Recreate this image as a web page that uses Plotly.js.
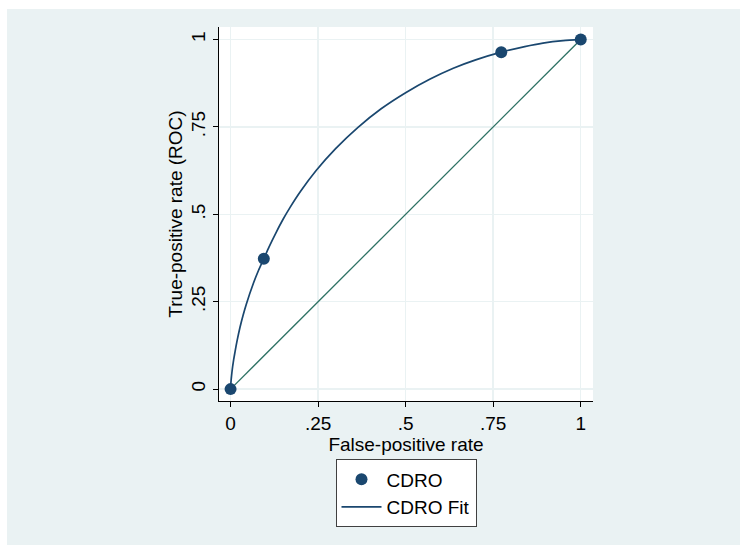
<!DOCTYPE html>
<html>
<head>
<meta charset="utf-8">
<script src="https://cdn.plot.ly/plotly-3.0.1.min.js"></script>
<style>
html,body{margin:0;padding:0;background:#ffffff;}
#chart{position:absolute;left:7px;top:9px;width:733px;height:536px;}
</style>
</head>
<body>
<div id="chart"></div>
<script>
// Observed operating points (CDRO)
const pointFPR = [0, 0.095, 0.773, 1];
const pointTPR = [0, 0.373, 0.964, 1];
// Fitted ROC curve (CDRO Fit)
const fitFPR = [0, 0.0005, 0.001, 0.002, 0.004, 0.006, 0.009, 0.013, 0.019, 0.027, 0.036, 0.045, 0.065, 0.08, 0.095, 0.11, 0.13, 0.15, 0.17, 0.2, 0.245, 0.3, 0.364, 0.43, 0.5, 0.57, 0.636, 0.7, 0.773, 0.84, 0.892, 0.95, 1];
const fitTPR = [0, 0.011, 0.018, 0.030, 0.049, 0.065, 0.085, 0.108, 0.140, 0.177, 0.212, 0.243, 0.302, 0.340, 0.373, 0.407, 0.448, 0.486, 0.520, 0.566, 0.626, 0.688, 0.749, 0.802, 0.848, 0.887, 0.918, 0.942, 0.964, 0.980, 0.990, 0.997, 1];
// Reference (chance) line
const refX = [0, 1];
const refY = [0, 1];
const tickVals = [0, 0.25, 0.5, 0.75, 1];
const tickText = ['0', '.25', '.5', '.75', '1'];

const navy = '#1A476F';
const green = '#2E7264';
const bg = '#EAF2F3';
const fontFam = 'Liberation Sans, Arial, sans-serif';
const fs = 19;

const traces = [
  {x: refX, y: refY, mode: 'lines', line: {color: green, width: 1.3}, showlegend: false, hoverinfo: 'skip'},
  {x: fitFPR, y: fitTPR, mode: 'lines', name: 'CDRO Fit', line: {color: navy, width: 1.7, shape: 'spline', smoothing: 0.7}, legendrank: 2},
  {x: pointFPR, y: pointTPR, mode: 'markers', name: 'CDRO', marker: {color: navy, size: 12}, legendrank: 1}
];

const axisCommon = {
  tickvals: tickVals, ticktext: tickText,
  showgrid: true, gridcolor: bg, gridwidth: 1.5,
  zeroline: false, showline: true, linecolor: '#000', linewidth: 1,
  ticks: 'outside', ticklen: 5, tickcolor: '#000', tickwidth: 1,
  tickfont: {family: fontFam, size: fs, color: '#000'},
  range: [-0.033, 1.035], fixedrange: true, automargin: false
};

const layout = {
  width: 733, height: 536,
  paper_bgcolor: bg, plot_bgcolor: '#ffffff',
  margin: {l: 212, r: 147, t: 18, b: 144},
  font: {family: fontFam, size: fs, color: '#000'},
  xaxis: Object.assign({}, axisCommon, {
    ticklabelstandoff: 0,
    title: {text: 'False-positive rate', font: {family: fontFam, size: fs, color: '#000'}, standoff: 0}
  }),
  yaxis: Object.assign({}, axisCommon, {
    range: [-0.034, 1.036],
    tickangle: -90,
    title: {text: 'True-positive rate (ROC)', font: {family: fontFam, size: fs, color: '#000'}, standoff: 0}
  }),
  legend: {
    x: 0.5, xanchor: 'center', y: -0.156, yanchor: 'top',
    bgcolor: '#ffffff', bordercolor: '#404040', borderwidth: 1,
    font: {family: fontFam, size: fs, color: '#000'},
    itemwidth: 40
  },
  showlegend: true
};

Plotly.newPlot('chart', traces, layout, {displayModeBar: false, staticPlot: true});
</script>
</body>
</html>
